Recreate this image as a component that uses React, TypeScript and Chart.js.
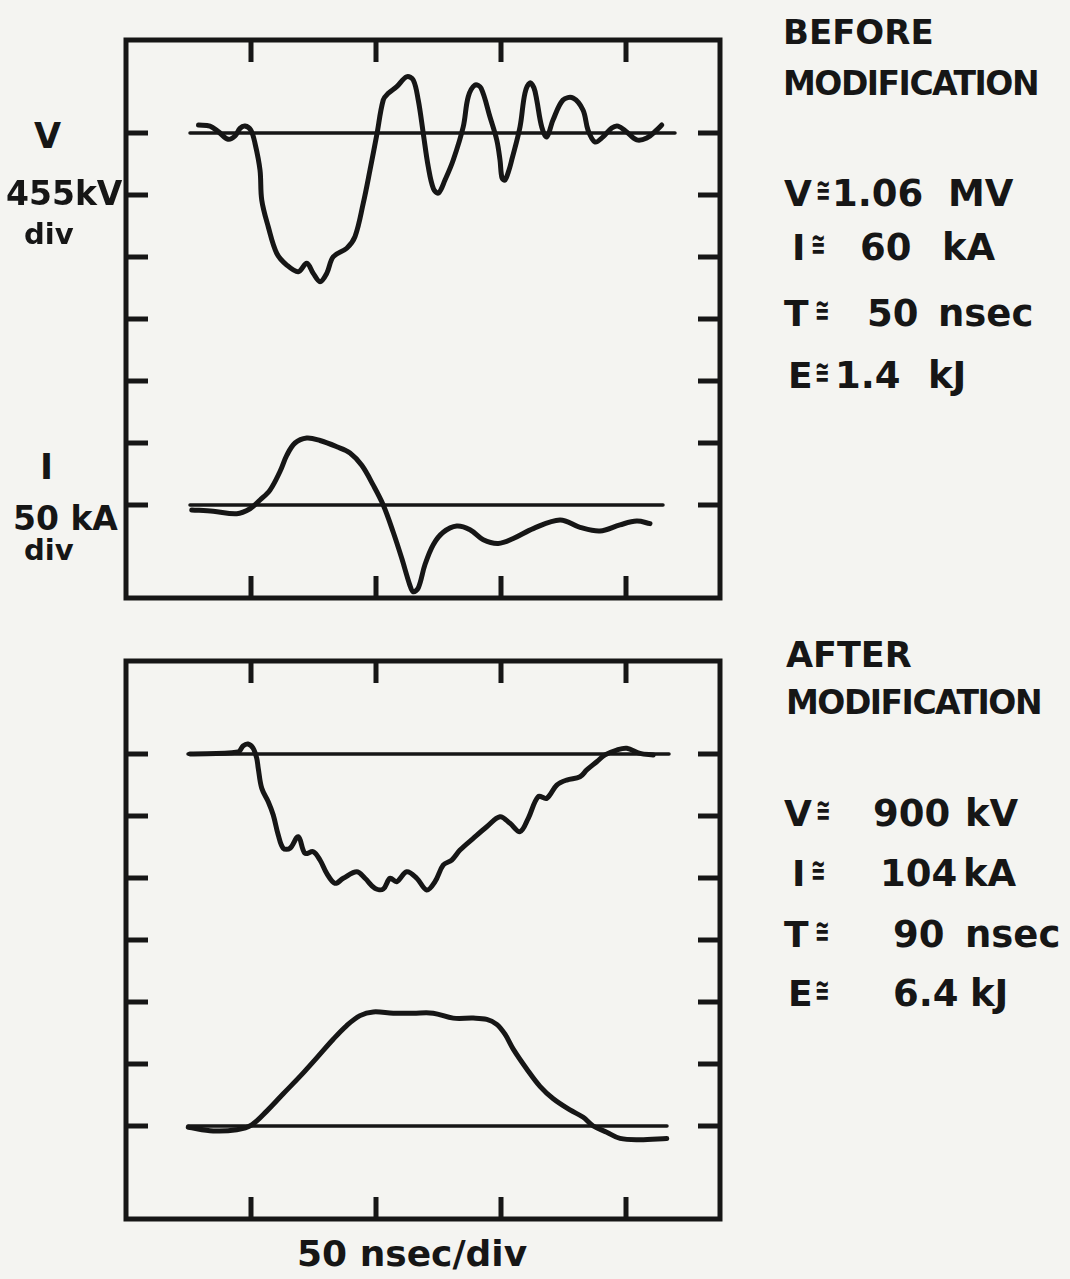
import React, { useEffect, useRef } from "react";
import { Chart, registerables } from "chart.js";

Chart.register(...registerables);

// ---------- scales (oscilloscope graticule) ----------
const TIME_TICKS_NS = [50, 100, 150, 200];
const TIME_MAX_NS = 237.6;
const V_KV_PER_DIV = 455;
const I_KA_PER_DIV = 50;
const V_TICKS_KV = [0, -455, -910, -1365, -1820, -2275, -2730];

// ---------- BEFORE MODIFICATION ----------
// [time ns, voltage kV]
const BEFORE_V: [number, number][] = [
  [29, 59], [33.6, 51], [36.9, 10], [40.9, -46], [43.6, -22], [45.6, 34], [47.6, 51],
  [49.9, 22], [51.6, -76], [53.6, -272], [54.3, -492], [56.9, -688], [60.3, -883],
  [64.3, -969], [68.9, -1018], [72.3, -956], [74.9, -1030], [77.6, -1091], [80.3, -1030],
  [82.9, -908], [88.3, -846], [91.6, -761], [94.9, -516], [97.6, -272], [100.3, -15],
  [102.9, 242], [104.9, 291], [108.3, 340], [112.3, 413], [114.9, 389], [116.9, 242],
  [118.9, -2], [120.9, -247], [123, -410], [125, -440], [127.6, -345], [130.9, -198],
  [134.9, 46], [136.9, 266], [139.6, 352], [142, 330], [145.6, 117], [148.3, -51],
  [149.6, -198], [150.4, -330], [151.6, -345], [153.2, -272], [154.3, -198], [157.6, 44],
  [159.6, 294], [161.6, 367], [163.2, 330], [164.3, 242], [166.3, 44], [168.3, -29],
  [170.8, 95], [174.8, 242], [178.8, 257], [182.8, 169], [184.8, 22], [187.6, -66],
  [190.8, -29], [194.3, 37], [196.8, 51], [200.3, 7], [204.3, -51], [208.3, -37],
  [212.3, 22], [214.3, 59],
];
// [time ns, current kA]
const BEFORE_I: [number, number][] = [
  [26.3, -4], [34.9, -5], [44.3, -7], [49.6, -3], [53.6, 4], [57.6, 12], [61.6, 27],
  [64.3, 40], [67.6, 50], [72.3, 54], [77.6, 52], [84.3, 47], [89.6, 42], [94.3, 32],
  [98.9, 16], [102.9, 0], [106.9, -22], [110.3, -43], [113.6, -65], [114.9, -70],
  [116.9, -67], [119.6, -48], [122.9, -32], [126.9, -22], [132.3, -17], [137.6, -20],
  [142.9, -28], [148.9, -31], [154.9, -27], [162.9, -19], [173.6, -12], [181.6, -18],
  [189.6, -21], [197.6, -16], [204.3, -13], [209.6, -15],
];
const BEFORE_V_ZERO_NS = [25.6, 219.6];
const BEFORE_I_ZERO_NS = [25.6, 214.8];

// ---------- AFTER MODIFICATION ----------
const AFTER_V: [number, number][] = [
  [25.6, 0], [44.8, 15], [46.8, 59], [48.8, 73], [50.8, 44], [52.3, -32], [52.9, -105],
  [54.3, -252], [56.9, -350], [58.9, -448], [60.9, -595], [62.9, -692], [65.6, -692],
  [68.9, -607], [71.6, -729], [74.9, -717], [77.6, -778], [80.3, -876], [83.6, -949],
  [86.9, -912], [92.3, -864], [95.6, -912], [99.6, -986], [102.9, -991], [105.6, -912],
  [108.3, -937], [112.3, -864], [116.3, -912], [120.3, -998], [123.6, -937], [126.9, -815],
  [130.3, -778], [133.6, -705], [138.9, -619], [144.3, -534], [149.6, -460], [153.6, -509],
  [157.6, -570], [160.9, -472], [164.9, -313], [168.3, -325], [172.3, -228], [176.3, -191],
  [181.6, -167], [184.3, -117], [188.3, -57], [191.6, -7], [196.3, 29], [200.3, 42],
  [205.6, 5], [210.9, -7],
];
const AFTER_I: [number, number][] = [
  [24.9, -1], [34.9, -4], [44.3, -3], [50.3, 1], [56.3, 12], [62.9, 26], [69.6, 40],
  [76.3, 55], [82.9, 70], [88.3, 81], [93.6, 89], [98.9, 92], [106.9, 91], [114.9, 91],
  [122.9, 91], [130.9, 87], [138.9, 87], [144.3, 86], [148.3, 82], [151.6, 74],
  [154.9, 62], [160.3, 46], [165.6, 32], [170.9, 22], [177.6, 13], [182.9, 7], [186.9, 0],
  [192.3, -5], [197.6, -10], [205.6, -11], [216.3, -10],
];
const AFTER_V_ZERO_NS = [24.8, 217.2];
const AFTER_I_ZERO_NS = [24.8, 216.4];

// ---------- annotation text ----------
const BEFORE_READINGS = [
  { sym: "V", val: "1.06", unit: "MV" },
  { sym: "I", val: "60", unit: "kA" },
  { sym: "T", val: "50", unit: "nsec" },
  { sym: "E", val: "1.4", unit: "kJ" },
];
const AFTER_READINGS = [
  { sym: "V", val: "900", unit: "kV" },
  { sym: "I", val: "104", unit: "kA" },
  { sym: "T", val: "90", unit: "nsec" },
  { sym: "E", val: "6.4", unit: "kJ" },
];

const INK = "#161616";
const PAPER = "#f4f4f1";
const FONT = "'DejaVu Sans', sans-serif";
const PAD = 6;
const BOX_LEFT = 126;
const BOX_W = 594;
const BOX_H = 558;
const TICK_LEN = 22;

const scopeFrame = {
  id: "scopeFrame",
  afterDatasetsDraw(chart: any) {
    const { ctx, chartArea: a, scales } = chart;
    const x = scales.x;
    const yV = scales.yV;
    ctx.save();
    ctx.strokeStyle = INK;
    ctx.lineWidth = 5;
    ctx.lineJoin = "miter";
    ctx.strokeRect(a.left, a.top, a.right - a.left, a.bottom - a.top);
    ctx.beginPath();
    for (const t of TIME_TICKS_NS) {
      const px = x.getPixelForValue(t);
      ctx.moveTo(px, a.top);
      ctx.lineTo(px, a.top + TICK_LEN);
      ctx.moveTo(px, a.bottom);
      ctx.lineTo(px, a.bottom - TICK_LEN);
    }
    for (const v of V_TICKS_KV) {
      const py = yV.getPixelForValue(v);
      ctx.moveTo(a.left, py);
      ctx.lineTo(a.left + TICK_LEN, py);
      ctx.moveTo(a.right, py);
      ctx.lineTo(a.right - TICK_LEN, py);
    }
    ctx.stroke();
    ctx.restore();
  },
};

function toPts(arr: [number, number][]) {
  return arr.map(([x, y]) => ({ x, y }));
}
function zeroLine(range: number[]) {
  return range.map((x) => ({ x, y: 0 }));
}

function Scope({ top, v, i, vZero, iZero }: any) {
  const ref = useRef<HTMLCanvasElement | null>(null);
  useEffect(() => {
    if (!ref.current) return;
    const trace = { borderColor: INK, pointRadius: 0, fill: false, tension: 0.35, borderCapStyle: "round", borderJoinStyle: "round" };
    const chart = new Chart(ref.current, {
      type: "line",
      data: {
        datasets: [
          { ...trace, data: zeroLine(vZero), yAxisID: "yV", borderWidth: 3.5, tension: 0 },
          { ...trace, data: zeroLine(iZero), yAxisID: "yI", borderWidth: 3.5, tension: 0 },
          { ...trace, data: toPts(v), yAxisID: "yV", borderWidth: 5 },
          { ...trace, data: toPts(i), yAxisID: "yI", borderWidth: 5 },
        ] as any,
      },
      options: {
        animation: false,
        responsive: false,
        maintainAspectRatio: false,
        events: [],
        layout: { padding: PAD },
        plugins: { legend: { display: false }, tooltip: { enabled: false } },
        scales: {
          x: { type: "linear", min: 0, max: TIME_MAX_NS, display: false },
          yV: { type: "linear", min: -7.5 * V_KV_PER_DIV, max: 1.5 * V_KV_PER_DIV, display: false },
          yI: { type: "linear", min: -1.5 * I_KA_PER_DIV, max: 7.5 * I_KA_PER_DIV, display: false },
        },
      } as any,
      plugins: [scopeFrame],
    });
    return () => chart.destroy();
  }, []);
  return (
    <canvas
      ref={ref}
      width={BOX_W + 2 * PAD}
      height={BOX_H + 2 * PAD}
      style={{ position: "absolute", left: BOX_LEFT - PAD, top: top - PAD, width: BOX_W + 2 * PAD, height: BOX_H + 2 * PAD }}
    />
  );
}

function Txt({ x, cy, size, children, ls = 0, style = {} }: any) {
  return (
    <div
      style={{
        position: "absolute",
        left: x,
        top: cy - 0.48 * size,
        fontFamily: FONT,
        fontWeight: 700,
        fontSize: size,
        lineHeight: `${size}px`,
        letterSpacing: ls,
        color: INK,
        whiteSpace: "nowrap",
        ...style,
      }}
    >
      {children}
    </div>
  );
}

function Reading({ cy, sym, val, unit, symX, apX, valX, unitX }: any) {
  return (
    <>
      <Txt x={symX} cy={cy} size={36}>{sym}</Txt>
      <Txt x={apX} cy={cy - 4} size={32} style={{ transform: "scaleX(0.55)", transformOrigin: "left center" }}>≅</Txt>
      <Txt x={valX} cy={cy} size={37}>{val}</Txt>
      <Txt x={unitX} cy={cy} size={37}>{unit}</Txt>
    </>
  );
}

const BEFORE_LAYOUT = [
  { cy: 193, symX: 784, apX: 816, valX: 832, unitX: 948 },
  { cy: 247, symX: 792, apX: 811, valX: 860, unitX: 942 },
  { cy: 313, symX: 784, apX: 815, valX: 867, unitX: 938 },
  { cy: 375, symX: 788, apX: 815, valX: 835, unitX: 928 },
];
const AFTER_LAYOUT = [
  { cy: 813, symX: 784, apX: 816, valX: 873, unitX: 965 },
  { cy: 873, symX: 792, apX: 811, valX: 880, unitX: 963 },
  { cy: 934, symX: 784, apX: 815, valX: 893, unitX: 965 },
  { cy: 993, symX: 788, apX: 815, valX: 893, unitX: 970 },
];

export default function App() {
  return (
    <div style={{ position: "absolute", left: 0, top: 0, width: 1070, height: 1279, background: PAPER, overflow: "hidden" }}>
      <Scope top={40} v={BEFORE_V} i={BEFORE_I} vZero={BEFORE_V_ZERO_NS} iZero={BEFORE_I_ZERO_NS} />
      <Scope top={661} v={AFTER_V} i={AFTER_I} vZero={AFTER_V_ZERO_NS} iZero={AFTER_I_ZERO_NS} />

      <Txt x={34} cy={136} size={35}>V</Txt>
      <Txt x={6} cy={193} size={33}>455kV</Txt>
      <Txt x={24} cy={234} size={29}>div</Txt>
      <Txt x={40} cy={467} size={35}>I</Txt>
      <Txt x={13} cy={518} size={33}>50 kA</Txt>
      <Txt x={24} cy={550} size={29}>div</Txt>

      <Txt x={783} cy={31} size={34}>BEFORE</Txt>
      <Txt x={783} cy={83} size={33} ls={-1.5}>MODIFICATION</Txt>
      {BEFORE_READINGS.map((r, k) => (
        <Reading key={k} {...r} {...BEFORE_LAYOUT[k]} />
      ))}

      <Txt x={786} cy={655} size={35}>AFTER</Txt>
      <Txt x={786} cy={702} size={33} ls={-1.5}>MODIFICATION</Txt>
      {AFTER_READINGS.map((r, k) => (
        <Reading key={k} {...r} {...AFTER_LAYOUT[k]} />
      ))}

      <Txt x={297} cy={1253} size={36}>50 nsec/div</Txt>
    </div>
  );
}
